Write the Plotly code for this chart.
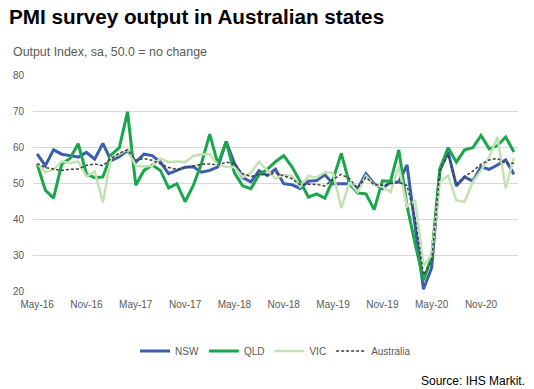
import pandas as pd
import plotly.graph_objects as go

months = list(pd.date_range("2016-05-01", periods=59, freq="MS").strftime("%b-%y"))
tick_labels = ["May-16", "Nov-16", "May-17", "Nov-17", "May-18", "Nov-18",
               "May-19", "Nov-19", "May-20", "Nov-20"]

nsw = [58.1, 54.8, 59.2, 58.0, 57.6, 57.2, 58.5, 56.6, 61.0, 56.2,
       57.3, 59.0, 55.8, 58.0, 57.6, 55.8, 52.6, 53.5, 54.4, 54.5,
       53.0, 53.5, 54.5, 61.5, 55.5, 51.5, 50.3, 53.4, 52.1, 53.8,
       49.8, 49.5, 48.5, 50.5, 50.7, 52.3, 49.8, 49.8, 49.8, 48.5,
       52.6, 49.8, 48.4, 50.3, 50.3, 55.0, 37.0, 20.5, 26.5, 53.5,
       58.6, 49.2, 51.7, 50.5, 54.5, 53.8, 55.0, 56.4, 52.4]

qld = [55.3, 48.0, 45.8, 55.3, 56.8, 60.9, 52.5, 51.5, 51.7, 57.8,
       59.8, 69.8, 49.4, 53.5, 55.0, 53.5, 48.6, 49.8, 44.8, 49.3,
       55.5, 63.6, 55.2, 61.5, 52.8, 49.2, 48.4, 52.3, 53.8, 55.9,
       57.6, 54.5, 50.4, 46.1, 47.0, 45.8, 51.0, 58.2, 49.8, 47.2,
       47.0, 42.6, 50.6, 50.5, 59.2, 43.6, 33.0, 23.0, 29.5, 54.0,
       59.8, 55.8, 59.2, 59.8, 63.2, 59.5, 60.4, 62.8, 58.6]

vic = [55.5, 53.0, 53.8, 56.0, 55.5, 56.0, 51.8, 53.2, 44.6, 57.0,
       58.0, 59.3, 54.8, 54.6, 54.8, 56.8, 55.8, 56.0, 55.8, 57.5,
       58.0, 58.0, 55.0, 54.5, 54.4, 51.6, 52.8, 55.9, 53.5, 51.2,
       52.3, 52.0, 49.0, 52.0, 51.5, 53.0, 52.8, 43.0, 50.2, 47.5,
       52.0, 49.4, 49.0, 47.5, 54.5, 43.5, 45.0, 27.0, 30.0, 50.3,
       52.0, 45.2, 44.7, 50.3, 53.5, 57.2, 62.8, 48.5, 57.0]

australia = [55.4, 54.3, 53.9, 53.5, 53.8, 53.9, 54.9, 55.3, 54.8, 56.8,
             58.3, 59.2, 56.3, 56.8, 56.3, 55.4, 54.3, 53.8, 54.2, 54.7,
             55.2, 55.3, 55.0, 55.8, 55.4, 52.6, 51.8, 52.4, 52.2, 52.8,
             52.0, 51.2, 49.5, 49.7, 49.6, 49.2, 51.0, 52.4, 51.2, 48.6,
             51.6, 49.5, 49.4, 49.8, 50.2, 49.3, 40.0, 24.5, 28.2, 53.5,
             58.0, 49.6, 51.8, 53.3, 55.2, 56.4, 56.8, 55.4, 55.5]

FONT = "Arial, Liberation Sans, sans-serif"
GREY = "#595959"

fig = go.Figure()
fig.add_trace(go.Scatter(x=months, y=nsw, name="NSW", mode="lines",
                         line=dict(color="#3b5fae", width=3)))
fig.add_trace(go.Scatter(x=months, y=qld, name="QLD", mode="lines",
                         line=dict(color="#1aa64a", width=3)))
fig.add_trace(go.Scatter(x=months, y=vic, name="VIC", mode="lines",
                         line=dict(color="#c3e2b3", width=2.5)))
fig.add_trace(go.Scatter(x=months, y=australia, name="Australia", mode="lines",
                         line=dict(color="#404040", width=1.5, dash="3px,2px")))

fig.update_layout(
    width=534, height=389,
    margin=dict(l=33, r=16, t=75, b=98),
    paper_bgcolor="white", plot_bgcolor="white",
    font=dict(family=FONT, color=GREY, size=10),
    showlegend=True,
    legend=dict(orientation="h", x=0.5, xanchor="center", y=-0.278, yanchor="middle",
                font=dict(size=10, color=GREY), itemwidth=30, tracegroupgap=0),
    xaxis=dict(type="category", range=[-0.5, 58.5],
               tickmode="array", tickvals=months[::6], ticktext=tick_labels,
               showgrid=False, zeroline=False, showline=False,
               tickfont=dict(size=10, color=GREY), ticks="", ticklabelstandoff=6),
    yaxis=dict(range=[20, 80], tickvals=[20, 30, 40, 50, 60, 70, 80],
               showgrid=True, gridcolor="#d9d9d9", gridwidth=1, zeroline=False,
               showline=False, ticks="", ticklabelstandoff=8,
               tickfont=dict(size=10, color=GREY)),
    annotations=[
        dict(text="<b>PMI survey output in Australian states</b>", xref="paper", yref="paper",
             x=-0.054, y=1.269, xanchor="left", yanchor="middle", showarrow=False,
             font=dict(size=20.7, color="black", family=FONT)),
        dict(text="Output Index, sa, 50.0 = no change", xref="paper", yref="paper",
             x=-0.045, y=1.106, xanchor="left", yanchor="middle", showarrow=False,
             font=dict(size=12.4, color=GREY, family=FONT)),
        dict(text="Source: IHS Markit.", xref="paper", yref="paper",
             x=1.0186, y=-0.417, xanchor="right", yanchor="middle", showarrow=False,
             font=dict(size=12, color="black", family=FONT)),
    ],
)

fig.write_html("out.html", config={"displayModeBar": False},
               post_script="document.body.style.margin='0';")
